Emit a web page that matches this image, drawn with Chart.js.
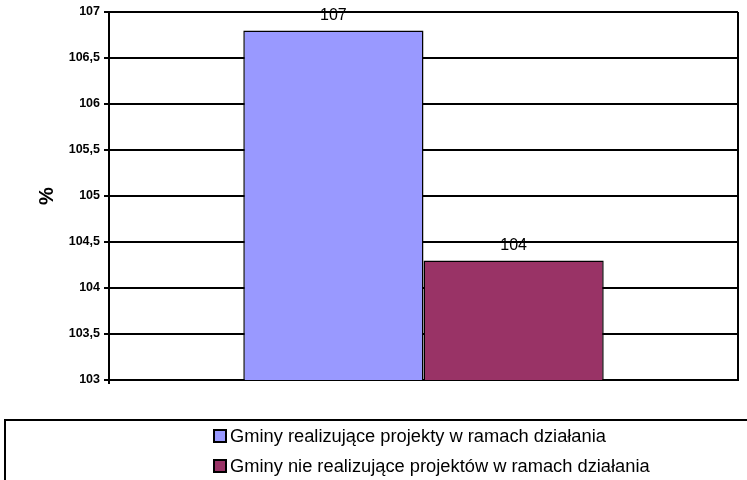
<!DOCTYPE html>
<html>
<head>
<meta charset="utf-8">
<script src="https://cdn.jsdelivr.net/npm/chart.js@4/dist/chart.umd.min.js"></script>
<style>
  html, body { margin: 0; padding: 0; background: #fff; }
  #wrap { width: 747px; height: 480px; }
</style>
</head>
<body>
<div id="wrap"><canvas id="c" width="747" height="480"></canvas></div>
<script>
// Chart data
const categories = [''];
const seriesNames = [
  'Gminy realizujące projekty w ramach działania',
  'Gminy nie realizujące projektów w ramach działania'
];
const seriesValues = [106.8, 104.3];
const seriesColors = ['#9999FF', '#993366'];
const axisMin = 103;
const axisMax = 107;
const axisStep = 0.5;
const axisTitle = '%';

const FONT = '"Liberation Sans", Arial, sans-serif';

// Value labels above each bar
const valueLabels = {
  id: 'valueLabels',
  afterDatasetsDraw(chart) {
    const ctx = chart.ctx;
    ctx.save();
    ctx.font = '16px ' + FONT;
    ctx.fillStyle = '#000';
    ctx.textAlign = 'center';
    ctx.textBaseline = 'bottom';
    chart.data.datasets.forEach((ds, i) => {
      const meta = chart.getDatasetMeta(i);
      meta.data.forEach((bar, j) => {
        ctx.fillText(String(Math.round(ds.data[j])), bar.x, bar.y - 7);
      });
    });
    ctx.restore();
  }
};

// Plot frame, rotated axis title and boxed legend
const decorations = {
  id: 'decorations',
  afterDraw(chart) {
    const ctx = chart.ctx;
    const a = chart.chartArea;
    ctx.save();
    ctx.strokeStyle = '#000';
    ctx.lineWidth = 2;
    ctx.beginPath();
    ctx.moveTo(a.right, a.top);
    ctx.lineTo(a.right, a.bottom);
    ctx.moveTo(a.left, a.bottom);
    ctx.lineTo(a.left, a.bottom + 4);
    ctx.stroke();

    // axis title
    ctx.save();
    ctx.translate(47, (a.top + a.bottom) / 2);
    ctx.rotate(-Math.PI / 2);
    ctx.font = 'bold 20px ' + FONT;
    ctx.fillStyle = '#000';
    ctx.textAlign = 'center';
    ctx.textBaseline = 'middle';
    ctx.fillText(axisTitle, 0, 0);
    ctx.restore();

    // legend box
    ctx.lineWidth = 2;
    ctx.strokeRect(5, 420, 800, 120);
    ctx.font = '18.3px ' + FONT;
    ctx.textAlign = 'left';
    ctx.textBaseline = 'middle';
    chart.data.datasets.forEach((ds, i) => {
      const y = 436 + i * 30;
      ctx.fillStyle = ds.backgroundColor;
      ctx.fillRect(214, y - 6, 12, 12);
      ctx.lineWidth = 2;
      ctx.strokeStyle = '#000';
      ctx.strokeRect(214, y - 6, 12, 12);
      ctx.fillStyle = '#000';
      ctx.fillText(ds.label, 230, y + 1);
    });
    ctx.restore();
  }
};

new Chart(document.getElementById('c'), {
  type: 'bar',
  data: {
    labels: categories,
    datasets: seriesNames.map((name, i) => ({
      label: name,
      data: [seriesValues[i]],
      backgroundColor: seriesColors[i],
      borderColor: '#000',
      borderWidth: 1.5,
      borderSkipped: false,
      categoryPercentage: 0.573,
      barPercentage: 1.0
    }))
  },
  options: {
    responsive: false,
    animation: false,
    layout: { padding: { top: 12, right: 9, bottom: 100, left: 0 } },
    plugins: {
      legend: { display: false },
      tooltip: { enabled: false }
    },
    scales: {
      x: {
        grid: { display: false },
        ticks: { display: false },
        border: { display: true, color: '#000', width: 2 },
        afterFit(scale) { scale.height = 0; }
      },
      y: {
        min: axisMin,
        max: axisMax,
        ticks: {
          stepSize: axisStep,
          padding: 4,
          color: '#000',
          font: { family: FONT, size: 12.5, weight: 'bold' },
          callback: v => String(v).replace('.', ',')
        },
        grid: { color: '#000', lineWidth: 2, tickLength: 5 },
        border: { display: true, color: '#000', width: 2 },
        afterFit(scale) { scale.width = 109; }
      }
    }
  },
  plugins: [valueLabels, decorations]
});
</script>
</body>
</html>
